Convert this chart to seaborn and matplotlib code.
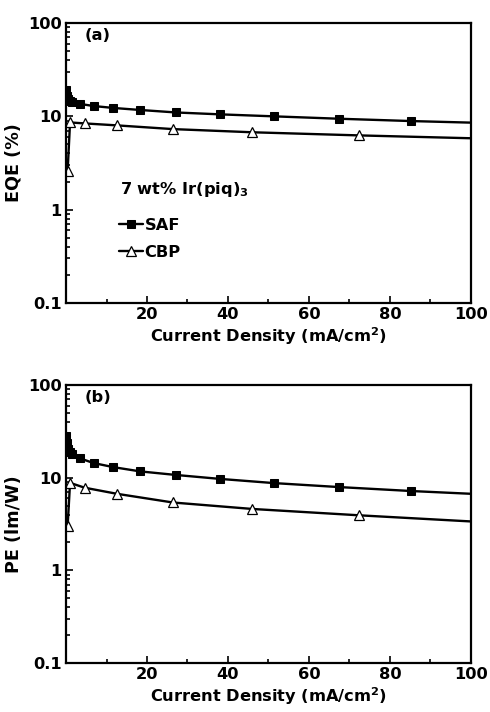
import matplotlib
matplotlib.use("Agg")
import matplotlib.pyplot as plt
import seaborn as sns
from matplotlib.ticker import FixedLocator, FuncFormatter, LogLocator, NullFormatter

# current density (mA/cm2) of each measured point
saf_j = [0.1, 0.3, 0.6, 1.0, 1.6, 3.4, 6.8, 11.7, 18.3, 27.2, 38.1, 51.3, 67.3, 85.3, 105.0]
cbp_j = [0.4, 1.0, 4.6, 12.6, 26.4, 46.0, 72.3, 105.0]

# (a) external quantum efficiency, %
saf_eqe = [19.0, 16.5, 15.3, 14.6, 14.1, 13.6, 12.9, 12.3, 11.7, 11.0, 10.5, 10.0, 9.43, 8.9, 8.45]
cbp_eqe = [2.6, 8.6, 8.4, 8.0, 7.3, 6.75, 6.25, 5.75]

# (b) power efficiency, lm/W
saf_pe = [28.0, 23.5, 20.5, 19.0, 18.0, 16.2, 14.4, 13.0, 11.7, 10.7, 9.7, 8.75, 7.93, 7.18, 6.55]
cbp_pe = [3.0, 8.8, 7.8, 6.7, 5.4, 4.6, 3.93, 3.28]

x_major = [20, 40, 60, 80, 100]
x_minor = [10, 30, 50, 70, 90]

sns.set_style("ticks")
plt.rcParams["font.family"] = ["DejaVu Sans"]
plt.rcParams["font.weight"] = "bold"
plt.rcParams["mathtext.default"] = "bf"
for key in ["text.color", "axes.labelcolor", "xtick.color", "ytick.color", "axes.edgecolor"]:
    plt.rcParams[key] = "black"

FS = 11.7

fig = plt.figure(figsize=(4.9, 7.12), dpi=100)
ax_a = fig.add_axes([0.1347, 0.5744, 0.8265, 0.3933])
ax_b = fig.add_axes([0.1347, 0.0688, 0.8265, 0.3904])


def draw_panel(ax, saf_y, cbp_y, ylabel, tag):
    sns.lineplot(x=saf_j, y=saf_y, ax=ax, color="black", lw=1.7, marker="s",
                 markersize=5.5, markerfacecolor="black", markeredgecolor="black",
                 errorbar=None, label="SAF")
    sns.lineplot(x=cbp_j, y=cbp_y, ax=ax, color="black", lw=1.7, marker="^",
                 markersize=7, markerfacecolor="white", markeredgecolor="black",
                 markeredgewidth=0.9, errorbar=None, label="CBP")
    ax.set_yscale("log")
    ax.set_xlim(0, 100)
    ax.set_ylim(0.1, 100)
    ax.xaxis.set_major_locator(FixedLocator(x_major))
    ax.xaxis.set_minor_locator(FixedLocator(x_minor))
    ax.yaxis.set_major_locator(FixedLocator([0.1, 1, 10, 100]))
    ax.yaxis.set_minor_locator(LogLocator(base=10, subs=range(2, 10)))
    ax.yaxis.set_major_formatter(FuncFormatter(lambda v, _: f"{v:g}"))
    ax.yaxis.set_minor_formatter(NullFormatter())
    ax.tick_params(which="both", direction="in", width=1.2, labelsize=FS, pad=3,
                   colors="black")
    ax.tick_params(which="major", length=5)
    ax.tick_params(which="minor", length=3)
    for s in ax.spines.values():
        s.set_linewidth(1.6)
        s.set_color("black")
        s.set_visible(True)
    ax.set_xlabel("Current Density (mA/cm$^2$)", fontsize=FS, fontweight="bold", labelpad=2)
    ax.set_ylabel(ylabel, fontsize=FS + 1, fontweight="bold", labelpad=4)
    ax.text(0.045, 0.955, tag, transform=ax.transAxes, fontsize=FS,
            fontweight="bold", ha="left", va="center")


draw_panel(ax_a, saf_eqe, cbp_eqe, "EQE (%)", "(a)")
draw_panel(ax_b, saf_pe, cbp_pe, "PE (lm/W)", "(b)")

ax_a.text(0.133, 0.405, "7 wt% Ir(piq)$_3$", transform=ax_a.transAxes,
          fontsize=FS, fontweight="bold", ha="left", va="center")
ax_a.legend(loc="upper left", bbox_to_anchor=(0.13, 0.305), frameon=False,
            handlelength=1.5, handletextpad=0.1, labelspacing=0.75,
            borderpad=0, borderaxespad=0, prop={"weight": "bold", "size": FS})
ax_b.get_legend().remove()

fig.savefig("out.png", dpi=100)
